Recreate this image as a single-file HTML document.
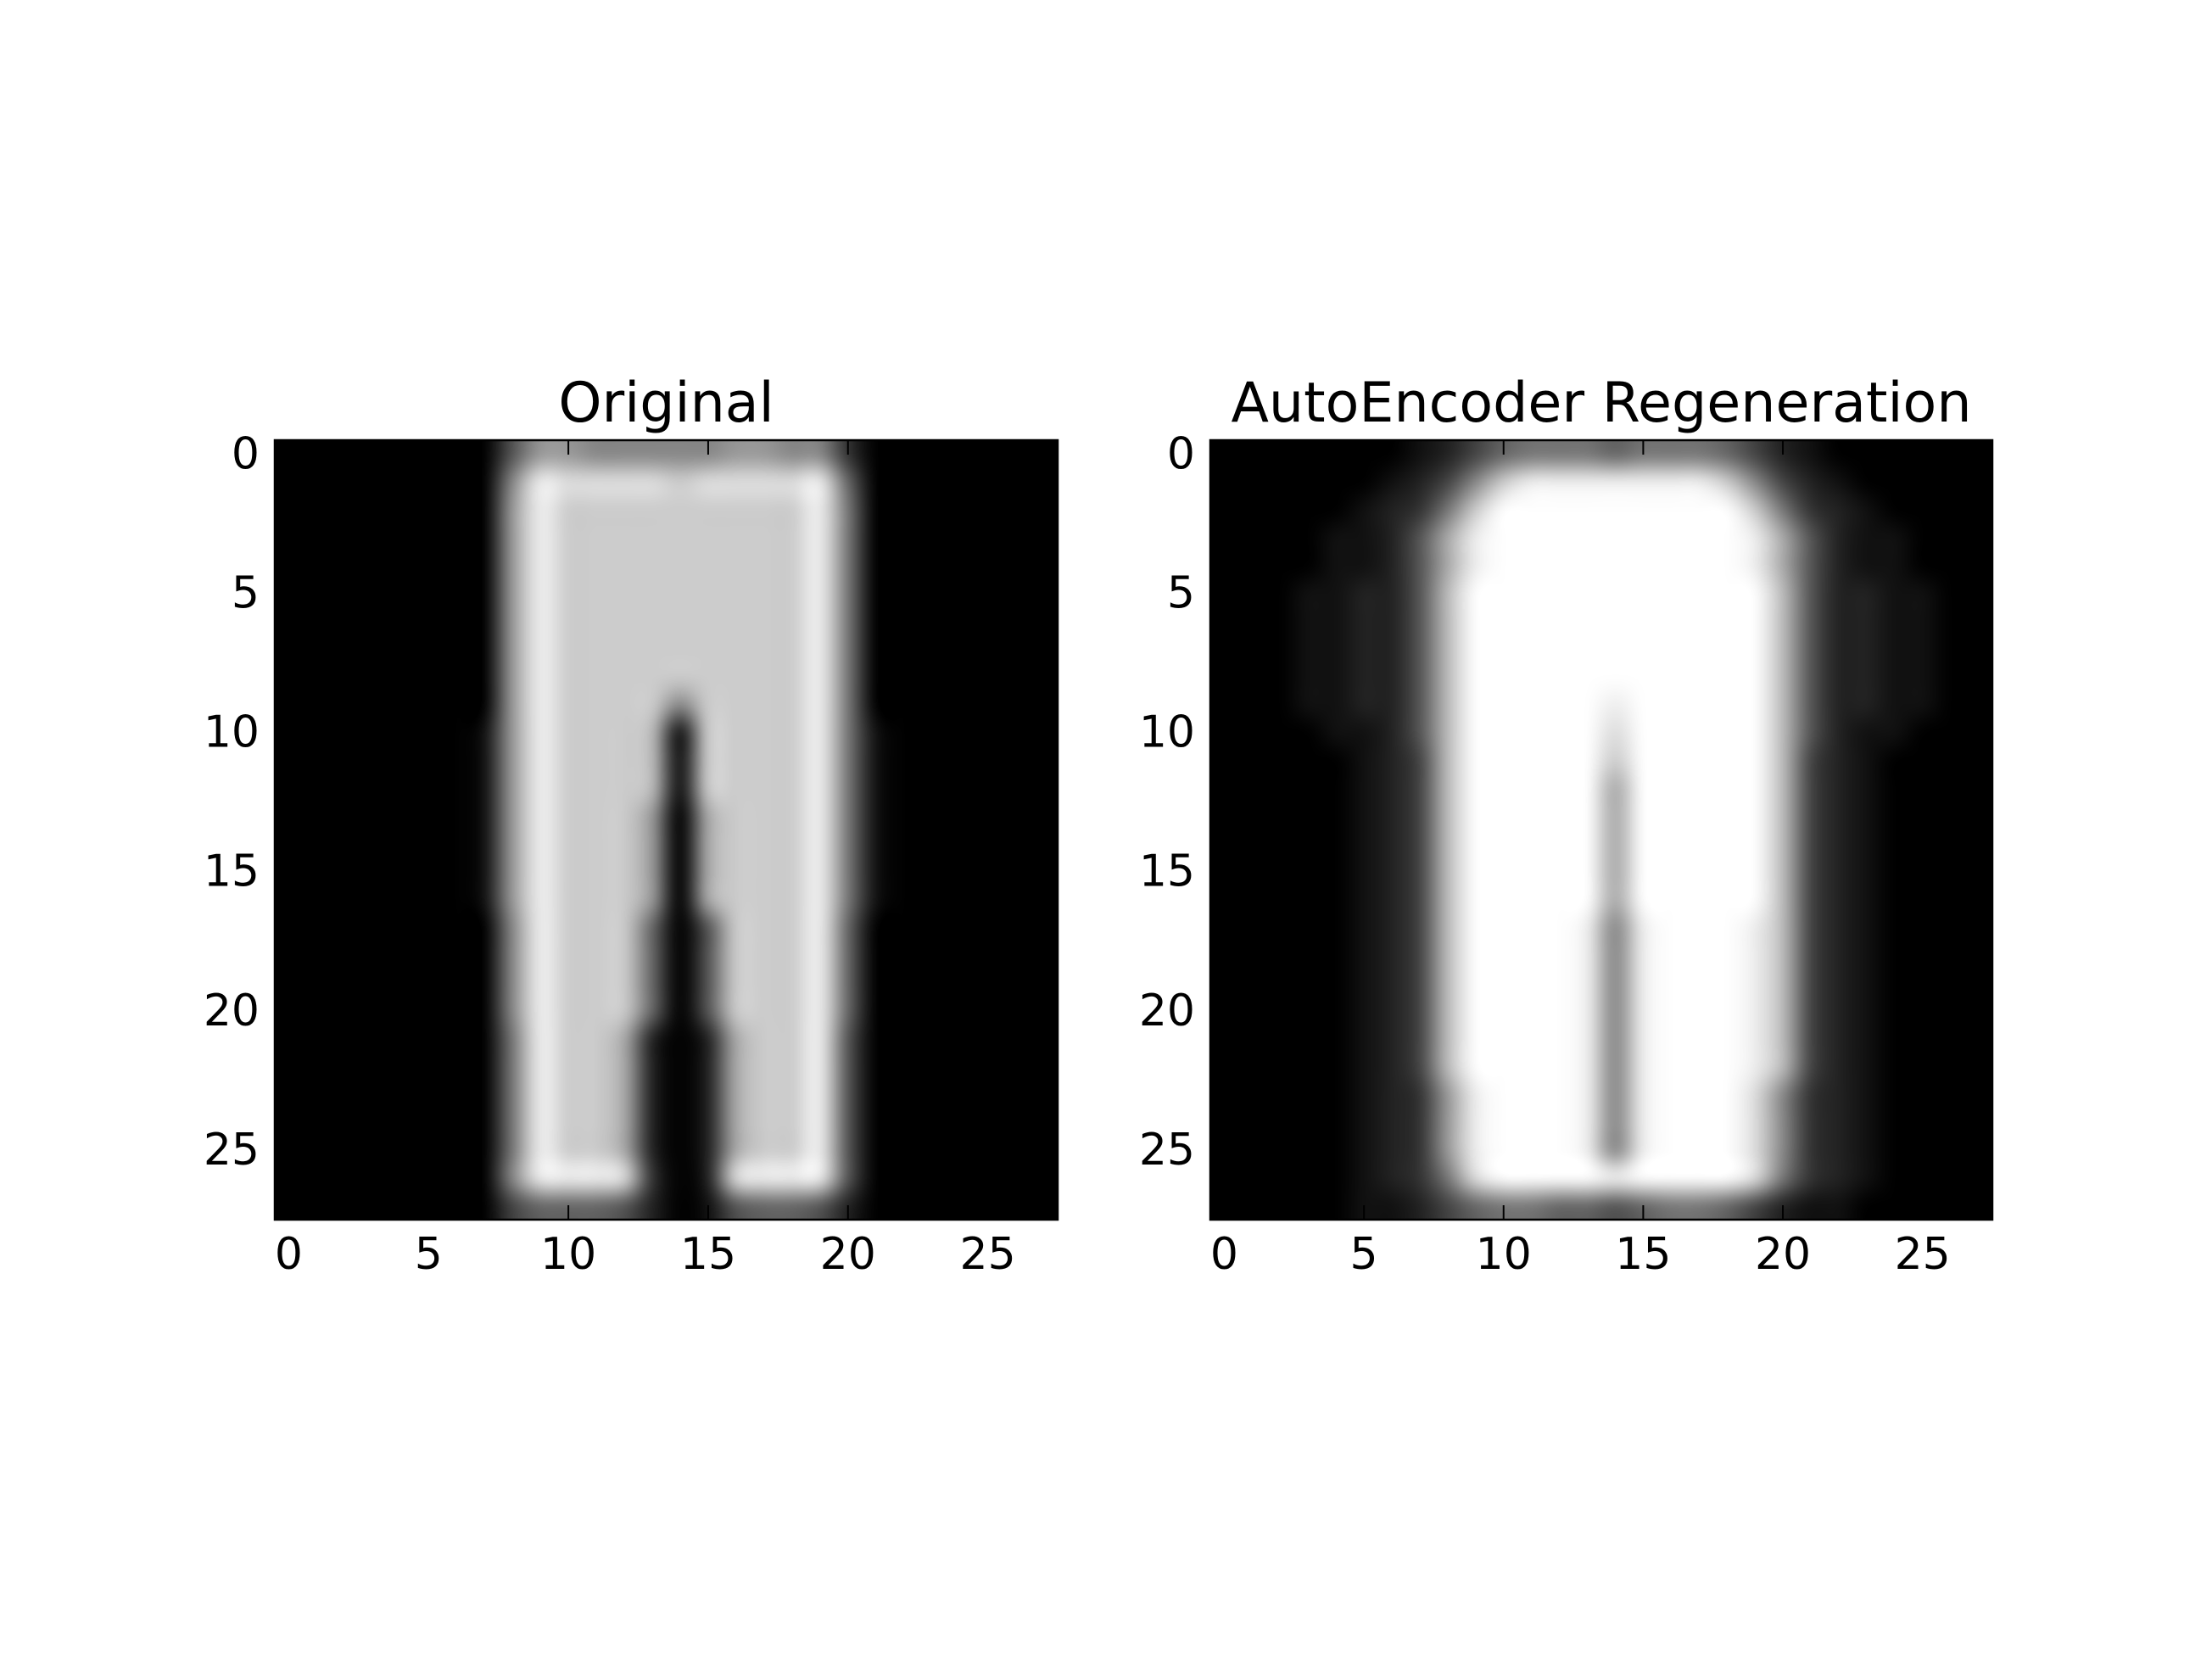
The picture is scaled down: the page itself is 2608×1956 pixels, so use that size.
<!DOCTYPE html>
<html><head><meta charset="utf-8">
<style>
html,body{margin:0;padding:0;background:#fff;}
#wrap{position:relative;width:2608px;height:1956px;overflow:hidden;background:#fff;}
canvas{position:absolute;}
svg{position:absolute;left:0;top:0;}
text{font-family:"DejaVu Sans","Liberation Sans",sans-serif;fill:#000;}
</style></head>
<body>
<div id="wrap">
<canvas id="c1"></canvas>
<canvas id="c2"></canvas>
<svg id="ov" width="2608" height="1956"></svg>
</div>
<script>
const xTicks = [0,5,10,15,20,25];
const yTicks = [0,5,10,15,20,25];
const titles = ["Original","AutoEncoder Regeneration"];
const originalRows = [
"0000000059988888998830000000",
"000000008eddddcdddde60000000",
"000000009eccccccccce70000000",
"000000009eccccccccce70000000",
"000000009eccccccccce70000000",
"000000009eccccccccce70000000",
"000000009eccccccccce70000000",
"000000009eccccccccce70000000",
"000000009eccccccccce70000000",
"000000009ecccc8cccce70000000",
"000000019ecccb1cccce71000000",
"000000019ecccb1cccce71000000",
"000000019ecccb1cccce71000000",
"000000019eccc90accce71000000",
"000000019eccc90accce71000000",
"000000019eccc90accce71000000",
"000000019eccc90accce71000000",
"000000008eccc605ccce60000000",
"000000008eccc605ccce60000000",
"000000008eccc605ccce60000000",
"000000008eccc605ccce60000000",
"000000007ecca202acce50000000",
"000000007ecca202acce50000000",
"000000007ecca202acce50000000",
"000000007ecca202acce50000000",
"000000007ecca202acce50000000",
"000000008eeed302deee50000000",
"0000000046665201566520000000"
];
const regenRows = [
"0000000124677767776421000000",
"0000001248ceeeeeeec842100000",
"000001237cfffffffffc73210000",
"00001125aefffffffffea5211000",
"00001125aefffffffffea5211000",
"00011225bfffffffffffb5221100",
"00011225bfffffffffffb5221100",
"00011225bfffffffffffb5221100",
"00011225bfffffffffffb5221100",
"00011225bfffffefffffb5221100",
"00001125bfffffdfffffb5211000",
"00000124bfffffcfffffb4210000",
"00000124bfffffafffffb4210000",
"00000124bfffffafffffb4210000",
"00000124bfffffafffffb4210000",
"00000124bfffffafffffb4210000",
"00000124bfffffafffffb4210000",
"00000124bffffe8efffeb4210000",
"00000124bffffe8efffeb4210000",
"00000124bffffe8efffeb4210000",
"00000124bffffe8efffeb4210000",
"00000124bffffe8efffeb4210000",
"00000124bffffe8efffeb4210000",
"000001239efffe8efffd83210000",
"000001239efffe8efffd83210000",
"000001239efffe8efffd83210000",
"000001237dffffeffffd73210000",
"0000011246776656776421100000"
];
const N = 28;
const axesList = [
  {x0:324, x1:1247, y0:519, y1:1438, rows:originalRows, canvas:'c1'},
  {x0:1427, x1:2349, y0:519, y1:1438, rows:regenRows, canvas:'c2'}
];
const NS = "http://www.w3.org/2000/svg";
const ov = document.getElementById('ov');
function mk(tag, attrs, parent){
  const e = document.createElementNS(NS, tag);
  for (const k in attrs) e.setAttribute(k, attrs[k]);
  (parent||ov).appendChild(e);
  return e;
}
axesList.forEach((ax, ai) => {
  const W = ax.x1-ax.x0, H = ax.y1-ax.y0;
  const sx = v => ax.x0 + (v+0.5)/N*W;
  const sy = v => ax.y0 + (v+0.5)/N*H;
  const small = document.createElement('canvas');
  small.width = N; small.height = N;
  const sctx = small.getContext('2d');
  const img = sctx.createImageData(N, N);
  for (let r=0;r<N;r++){
    const row = ax.rows[r] || "";
    for (let c=0;c<N;c++){
      const ch = row[c] || '0';
      const v = parseInt(ch,16)*17;
      const i = (r*N+c)*4;
      img.data[i]=v; img.data[i+1]=v; img.data[i+2]=v; img.data[i+3]=255;
    }
  }
  sctx.putImageData(img,0,0);
  const cv = document.getElementById(ax.canvas);
  cv.width = W; cv.height = H;
  cv.style.left = ax.x0+'px'; cv.style.top = ax.y0+'px';
  const ctx = cv.getContext('2d');
  ctx.imageSmoothingEnabled = true;
  ctx.imageSmoothingQuality = 'high';
  ctx.drawImage(small, 0, 0, W, H);
  const g = mk('g', {});
  
  
  const fr = mk('rect', {x:ax.x0, y:ax.y0, width:W, height:H, fill:'none', stroke:'#000', 'stroke-width':2.5}, g);
  
  
  xTicks.forEach(t => {
    const x = sx(t);
    mk('line', {x1:x, x2:x, y1:ax.y1, y2:ax.y1-17, stroke:'#000', 'stroke-width':2}, g);
    mk('line', {x1:x, x2:x, y1:ax.y0, y2:ax.y0+17, stroke:'#000', 'stroke-width':2}, g);
    const tx = mk('text', {x:x, y:ax.y1+58, 'font-size':52, 'text-anchor':'middle'}, g);
    tx.textContent = t;
    
    
  });
  yTicks.forEach(t => {
    const y = sy(t);
    mk('line', {x1:ax.x0, x2:ax.x0+17, y1:y, y2:y, stroke:'#000', 'stroke-width':2}, g);
    mk('line', {x1:ax.x1, x2:ax.x1-17, y1:y, y2:y, stroke:'#000', 'stroke-width':2}, g);
    const ty = mk('text', {x:ax.x0-18, y:y+17, 'font-size':52, 'text-anchor':'end'}, g);
    ty.textContent = t;
    
    
  });
  const tt = mk('text', {x:(ax.x0+ax.x1)/2, y:ax.y0-22, 'font-size':65, 'text-anchor':'middle'}, g);
  tt.textContent = titles[ai];
  
  
});
</script>
</body></html>
